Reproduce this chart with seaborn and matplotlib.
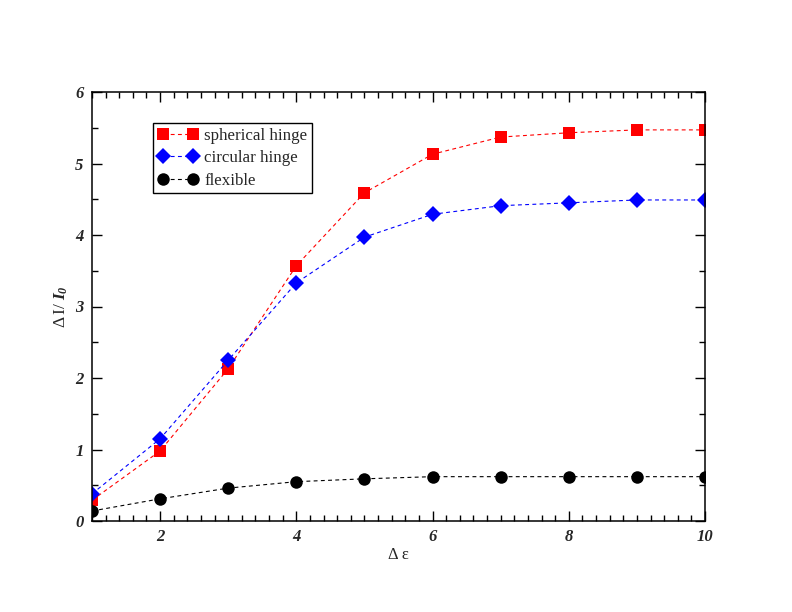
import matplotlib
matplotlib.use("Agg")
import matplotlib.pyplot as plt
from matplotlib.ticker import MultipleLocator
import seaborn as sns
import pandas as pd

x = [1, 2, 3, 4, 5, 6, 7, 8, 9, 10]
spherical = [0.29, 0.98, 2.13, 3.57, 4.59, 5.13, 5.37, 5.43, 5.47, 5.47]
circular = [0.38, 1.15, 2.25, 3.33, 3.97, 4.29, 4.41, 4.45, 4.49, 4.49]
flexible = [0.14, 0.31, 0.46, 0.55, 0.59, 0.62, 0.62, 0.62, 0.62, 0.62]
labels = ["spherical hinge", "circular hinge", "flexible"]

sns.set_style("ticks")
plt.rcParams['font.family'] = ['Liberation Serif', 'DejaVu Serif']
plt.rcParams['mathtext.fontset'] = 'custom'
plt.rcParams['mathtext.rm'] = 'Liberation Serif'
plt.rcParams['mathtext.it'] = 'Liberation Serif:italic'
plt.rcParams['mathtext.bf'] = 'Liberation Serif:bold'
plt.rcParams['mathtext.bfit'] = 'Liberation Serif:bold:italic'

fig = plt.figure(figsize=(7.92, 6.12), dpi=100)
ax = fig.add_axes([92/792, 91/612, 613/792, 429/612])

styles = [
    (spherical, labels[0], "red", "s", 8.5),
    (circular, labels[1], "blue", "D", 8.0),
    (flexible, labels[2], "black", "o", 9),
]
for vals, lab, col, mk, ms in styles:
    df = pd.DataFrame({"x": x, "y": vals})
    sns.lineplot(data=df, x="x", y="y", ax=ax, color=col, marker=mk,
                 markersize=ms, markeredgewidth=0, linewidth=0.8,
                 linestyle=(0, (3.5, 3)), label=lab)

ax.set_xlim(1, 10)
ax.set_ylim(0, 6)
ax.xaxis.set_major_locator(MultipleLocator(2))
ax.xaxis.set_minor_locator(MultipleLocator(0.2))
ax.yaxis.set_major_locator(MultipleLocator(1))
ax.yaxis.set_minor_locator(MultipleLocator(0.5))
ax.tick_params(which='both', direction='in', top=True, right=True, width=1.0, color='black')
ax.tick_params(which='major', length=7.5, labelsize=12, pad=6)
ax.tick_params(which='minor', length=4)
for lbl in ax.get_xticklabels() + ax.get_yticklabels():
    lbl.set_fontweight('bold')
    lbl.set_fontstyle('italic')
for s in ax.spines.values():
    s.set_linewidth(1.1)
    s.set_color('black')

ax.set_xlabel("\u0394 \u03b5", fontsize=12, labelpad=1)
ax.set_ylabel(r"$\Delta\,\mathrm{I}/\ \mathbfit{I_0}$", fontsize=12.5, labelpad=4)

leg = ax.legend(loc='upper left', bbox_to_anchor=(0.0995, 0.928), borderaxespad=0,
                fancybox=False, edgecolor='black', framealpha=1, fontsize=12.2,
                numpoints=2, handlelength=2.4, handletextpad=0.35, borderpad=0.28,
                labelspacing=0.38)
leg.get_frame().set_linewidth(1.0)

fig.savefig("out.png", dpi=100)
